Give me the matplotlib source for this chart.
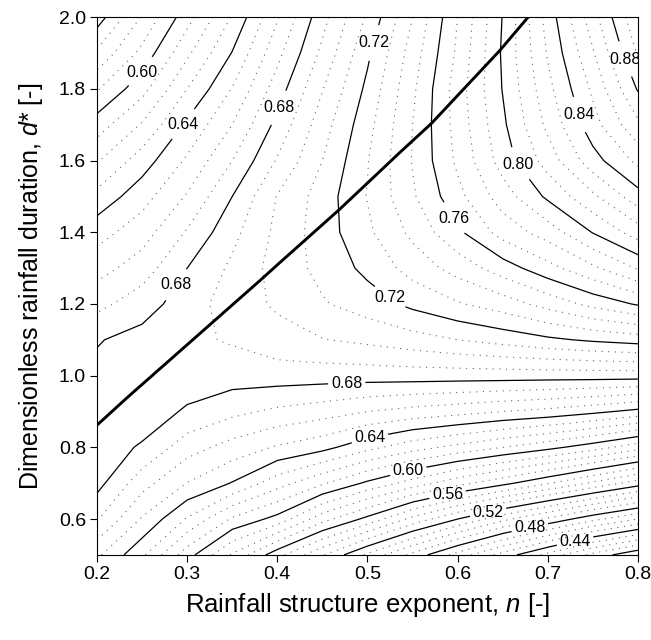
import numpy as np
import matplotlib
matplotlib.use("Agg")
import matplotlib.pyplot as plt

plt.rcParams['font.family'] = ['Liberation Sans', 'DejaVu Sans']
plt.rcParams['mathtext.fontset'] = 'custom'
plt.rcParams['mathtext.rm'] = 'Liberation Sans'
plt.rcParams['mathtext.it'] = 'Liberation Sans:italic'

# Rainfall structure exponent n (columns) and dimensionless duration d* (rows)
n_values = [0.20, 0.25, 0.30, 0.35, 0.40, 0.45, 0.50, 0.55, 0.60, 0.65, 0.70, 0.75, 0.80]
d_values = [0.5, 0.6, 0.7, 0.8, 0.9, 1.0, 1.1, 1.2, 1.3, 1.4, 1.5, 1.6, 1.7, 1.8, 1.9, 2.0]

# Field values, one list per n column (from d* = 0.5 up to d* = 2.0)
col_020 = [0.652, 0.671, 0.6835, 0.6845, 0.685, 0.6825, 0.6793, 0.667, 0.656, 0.646, 0.633, 0.619, 0.605, 0.589, 0.572, 0.555]
col_025 = [0.632, 0.649, 0.664, 0.679, 0.685, 0.6865, 0.6835, 0.6755, 0.665, 0.6555, 0.646, 0.635, 0.621, 0.6065, 0.593, 0.581]
col_030 = [0.6045, 0.629, 0.6497, 0.6643, 0.6788, 0.685, 0.688, 0.685, 0.680, 0.671, 0.661, 0.6516, 0.642, 0.630, 0.618, 0.606]
col_035 = [0.5787, 0.6086, 0.6394, 0.6561, 0.6726, 0.6847, 0.691, 0.695, 0.692, 0.687, 0.680, 0.670, 0.660, 0.6505, 0.6405, 0.631]
col_040 = [0.5536, 0.5965, 0.6244, 0.649, 0.668, 0.685, 0.6962, 0.7015, 0.704, 0.7025, 0.7005, 0.691, 0.683, 0.675, 0.667, 0.659]
col_045 = [0.531, 0.5739, 0.6114, 0.6432, 0.6646, 0.6847, 0.6996, 0.709, 0.713, 0.715, 0.7145, 0.710, 0.7055, 0.6995, 0.6925, 0.6865]
col_050 = [0.508, 0.557, 0.598, 0.633, 0.660, 0.6846, 0.7023, 0.715, 0.7227, 0.728, 0.7305, 0.7295, 0.7266, 0.7225, 0.718, 0.7116]
col_055 = [0.487, 0.537, 0.5856, 0.624, 0.6565, 0.6848, 0.706, 0.7225, 0.734, 0.7425, 0.7486, 0.7506, 0.750, 0.748, 0.7447, 0.740]
col_060 = [0.466, 0.520, 0.5735, 0.617, 0.6535, 0.6847, 0.710, 0.729, 0.744, 0.758, 0.767, 0.772, 0.774, 0.775, 0.772, 0.770]
col_065 = [0.446, 0.503, 0.563, 0.610, 0.650, 0.6847, 0.7138, 0.735, 0.755, 0.774, 0.785, 0.7945, 0.798, 0.8005, 0.8015, 0.8005]
col_070 = [0.427, 0.488, 0.551, 0.603, 0.647, 0.6845, 0.718, 0.7437, 0.7665, 0.7846, 0.802, 0.8145, 0.8225, 0.827, 0.831, 0.834]
col_075 = [0.407, 0.473, 0.538, 0.5945, 0.6425, 0.6846, 0.7216, 0.753, 0.778, 0.8005, 0.818, 0.836, 0.846, 0.852, 0.859, 0.866]
col_080 = [0.391, 0.460, 0.525, 0.584, 0.637, 0.6845, 0.7244, 0.7612, 0.791, 0.815, 0.836, 0.8526, 0.868, 0.881, 0.891, 0.899]

# Thick curve (n, d*)
ridge_n = [0.200, 0.234, 0.381, 0.403, 0.469, 0.536, 0.571, 0.647, 0.678]
ridge_d = [0.862, 0.940, 1.266, 1.316, 1.464, 1.623, 1.704, 1.908, 2.000]

solid_levels = [0.40, 0.44, 0.48, 0.52, 0.56, 0.60, 0.64, 0.68, 0.72, 0.76, 0.80, 0.84, 0.88]
dotted_levels = [0.39, 0.41, 0.42, 0.43, 0.45, 0.46, 0.47, 0.49, 0.50, 0.51, 0.53, 0.54, 0.55,
                 0.57, 0.58, 0.59, 0.61, 0.62, 0.63, 0.65, 0.66, 0.67, 0.69, 0.70, 0.71,
                 0.73, 0.74, 0.75, 0.77, 0.78, 0.79, 0.81, 0.82, 0.83, 0.85, 0.86, 0.87, 0.89, 0.90]

columns = [col_020, col_025, col_030, col_035, col_040, col_045, col_050,
           col_055, col_060, col_065, col_070, col_075, col_080]
Z = np.array(columns).T
N, D = np.meshgrid(n_values, d_values)

fig = plt.figure(figsize=(6.51, 6.40), dpi=100)
ax = fig.add_axes([0.149, 0.133, 0.831, 0.840])

ax.contour(N, D, Z, levels=dotted_levels, colors='#666666',
           linewidths=0.8, linestyles=[(0, (1, 5))])
cs = ax.contour(N, D, Z, levels=solid_levels, colors='black', linewidths=0.9)

label_spots = [(0.245, 1.858), (0.293, 1.707), (0.400, 1.749), (0.287, 1.255),
               (0.505, 1.930), (0.782, 1.880), (0.733, 1.727), (0.669, 1.593),
               (0.597, 1.442), (0.525, 1.219), (0.477, 0.979), (0.503, 0.820),
               (0.545, 0.736), (0.589, 0.666), (0.634, 0.616), (0.680, 0.577),
               (0.730, 0.541)]
texts = ax.clabel(cs, fmt='%.2f', fontsize=11.5, inline=True, inline_spacing=3,
                  manual=label_spots)
for t in texts:
    t.set_rotation(0)

ax.plot(ridge_n, ridge_d, color='black', linewidth=2.1, solid_capstyle='butt')

ax.set_xlim(0.2, 0.8)
ax.set_ylim(0.5, 2.0)
ax.set_xticks([0.2, 0.3, 0.4, 0.5, 0.6, 0.7, 0.8])
ax.set_xticklabels(['0.2', '0.3', '0.4', '0.5', '0.6', '0.7', '0.8'])
ax.set_yticks([0.6, 0.8, 1.0, 1.2, 1.4, 1.6, 1.8, 2.0])
ax.set_yticklabels(['0.6', '0.8', '1.0', '1.2', '1.4', '1.6', '1.8', '2.0'])
ax.tick_params(direction='out', length=5, width=0.8, labelsize=14, pad=3,
               colors='black')
for s in ax.spines.values():
    s.set_linewidth(0.8)
    s.set_color('black')

ax.set_xlabel(r'Rainfall structure exponent, $n$ [-]', fontsize=18.5, labelpad=6)
ax.set_ylabel(r'Dimensionless rainfall duration, $d$* [-]', fontsize=18, labelpad=10)

fig.savefig('out.png', dpi=100)
